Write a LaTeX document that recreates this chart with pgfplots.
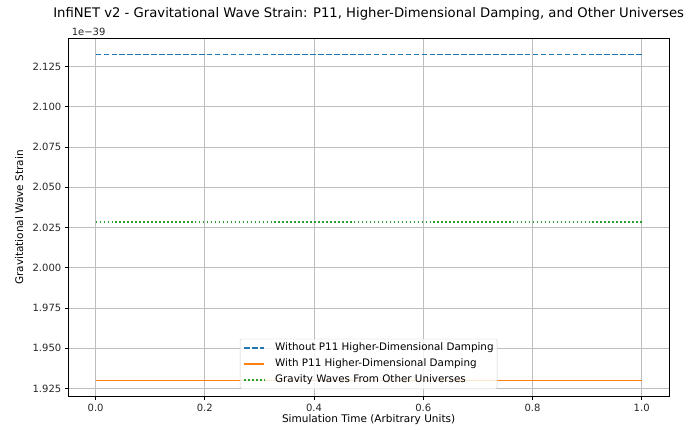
\documentclass[border=0pt]{standalone}
\usepackage{fontspec}
\setmainfont{DejaVu Sans}
\usepackage{pgfplots}
\pgfplotsset{compat=1.18}
\definecolor{mplblue}{HTML}{1F77B4}
\definecolor{mplorange}{HTML}{FF7F0E}
\definecolor{mplgreen}{HTML}{2CA02C}
\begin{document}
\begin{tikzpicture}
\useasboundingbox (-68.3pt,-32.3pt) rectangle (622.7pt,396.7pt);
\begin{axis}[
  at={(0pt,0pt)}, anchor=south west,
  scale only axis, width=600.7pt, height=358.4pt,
  clip mode=individual,
  xmin=-0.05, xmax=1.05, ymin=1.91989, ymax=2.14261,
  xtick={0,0.2,0.4,0.6,0.8,1.0},
  ytick={1.925,1.95,1.975,2.0,2.025,2.05,2.075,2.1,2.125},
  grid=major, major grid style={color=black!26, line width=0.8pt},
  axis line style={line width=0.8pt},
  tick align=outside, major tick length=3.5pt, tick pos=left,
  every tick/.style={black, line width=0.8pt},
  /pgf/number format/assume math mode=true,
  xticklabel style={/pgf/number format/.cd, fixed, fixed zerofill, precision=1},
  yticklabel style={/pgf/number format/.cd, fixed, fixed zerofill, precision=3},
  tick label style={font=\fontsize{10}{12}\selectfont, text=black!85},
  xlabel={Simulation Time (Arbitrary Units)},
  ylabel={Gravitational Wave Strain},
  xlabel style={font=\fontsize{10.5}{12}\selectfont, at={(axis description cs:0.5,-0.065)}, anchor=center, yshift=0pt},
  ylabel style={font=\fontsize{10.5}{12}\selectfont, at={(axis description cs:-0.0816,0.5)}, anchor=center},
  title={InfiNET v2 - Gravitational Wave Strain: P11, Higher-Dimensional Damping, and Other Universes},
  title style={font=\fontsize{13.2}{15}\selectfont, at={(axis description cs:0.5,1.051)}, anchor=center, yshift=0pt},
  legend style={at={(0.5,0)}, anchor=south, yshift=7.5pt, draw=black!20, rounded corners=2pt,
    fill=white, fill opacity=0.8, text opacity=1, font=\fontsize{10.35}{12}\selectfont,
    inner xsep=3.5pt, inner ysep=3.5pt, row sep=5pt,
    nodes={inner sep=0pt, text height=8pt, text depth=3pt},
    /tikz/every odd column/.append style={column sep=10pt}},
  legend cell align=left,
  legend image code/.code={\draw[#1] (0pt,0pt) -- (20pt,0pt);},
]
\addplot[mplblue, line width=1.5pt, dash pattern=on 5.55pt off 2.4pt] coordinates {(0,2.1325) (1,2.1325)};
\addlegendentry{Without P11 Higher-Dimensional Damping}
\addplot[mplorange, line width=1.5pt] coordinates {(0,1.9300) (1,1.9300)};
\addlegendentry{With P11 Higher-Dimensional Damping}
\addplot[mplgreen, line width=1.5pt, dash pattern=on 1.5pt off 2.475pt] coordinates {(0,2.0285) (1,2.0285)};
\addlegendentry{Gravity Waves From Other Universes}
\node[anchor=west, font=\fontsize{10}{12}\selectfont, text=black!85] at (rel axis cs:0.0,1.018) {1e−39};
\end{axis}
\end{tikzpicture}
\end{document}
